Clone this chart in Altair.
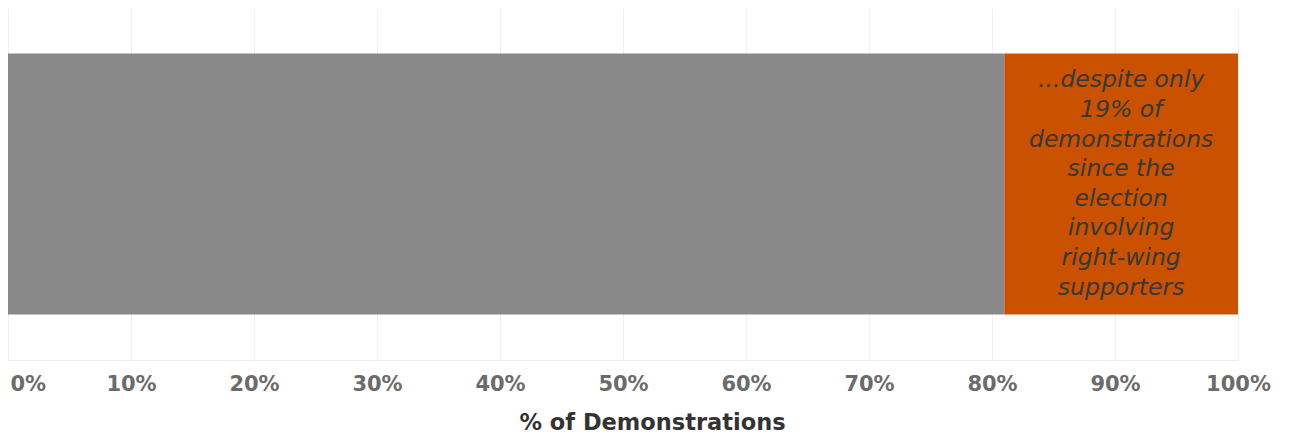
import altair as alt
import pandas as pd

segments = ["Other demonstrations", "Involving right-wing supporters"]
shares = [0.81, 0.19]
colors = ["#898989", "#c95100"]
annotation_lines = [
    "...despite only",
    "19% of",
    "demonstrations",
    "since the",
    "election",
    "involving",
    "right-wing",
    "supporters",
]
tick_values = [i / 10 for i in range(11)]

df = pd.DataFrame({"segment": segments, "share": shares, "row": "All"})
df["start"] = df["share"].cumsum() - df["share"]
df["end"] = df["share"].cumsum()
df["mid"] = (df["start"] + df["end"]) / 2

x_scale = alt.Scale(domain=[0, 1], nice=False, zero=True)
y_scale = alt.Scale(paddingInner=0, paddingOuter=0.174)

bars = alt.Chart(df).mark_bar().encode(
    x=alt.X(
        "start:Q",
        scale=x_scale,
        axis=alt.Axis(
            values=tick_values,
            format=".0%",
            title="% of Demonstrations",
            grid=True,
            gridColor="#f0f0f0",
            domainColor="#ececec",
            ticks=False,
            labelFont="DejaVu Sans",
            labelFontSize=21,
            labelFontWeight="bold",
            labelColor="#6b6b6b",
            labelPadding=13,
            labelAlign={"condition": {"test": "datum.value == 0", "value": "left"}, "value": "center"},
            labelOffset={"condition": {"test": "datum.value == 0", "value": 2}, "value": 0},
            titleFont="DejaVu Sans",
            titleFontSize=22.5,
            titleFontWeight="bold",
            titleColor="#333333",
            titlePadding=17,
            titleX=644,
            titleAlign="center",
        ),
    ),
    x2="end:Q",
    y=alt.Y("row:N", scale=y_scale, axis=None),
    color=alt.Color("segment:N", scale=alt.Scale(domain=segments, range=colors), legend=None),
)

text_df = pd.DataFrame({
    "row": ["All"],
    "mid": [df["mid"].iloc[1]],
    "label": ["\n".join(annotation_lines)],
})

line_h = 29.6
text = alt.Chart(text_df).mark_text(
    font="DejaVu Sans",
    fontSize=23.5,
    fontStyle="italic",
    color="#383838",
    lineBreak="\n",
    lineHeight=line_h,
    align="center",
    baseline="middle",
    dy=-(len(annotation_lines) - 1) * line_h / 2,
).encode(
    x=alt.X("mid:Q", scale=x_scale),
    y=alt.Y("row:N", scale=y_scale, axis=None),
    text="label:N",
)

chart = alt.layer(bars, text).properties(
    width=1230,
    height=352,
    background="white",
    padding={"left": 8, "top": 8, "right": 0, "bottom": 0},
).configure_view(stroke=None)

chart.save("out.html", embed_options={"renderer": "svg", "actions": False})
